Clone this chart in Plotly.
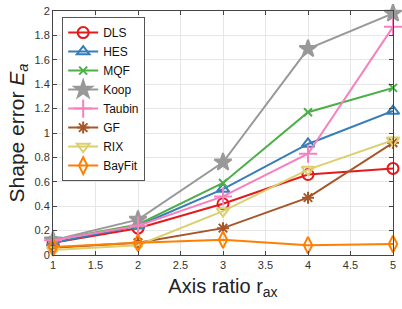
import plotly.graph_objects as go

x_ratio = [1, 2, 3, 4, 5]
names = ["DLS", "HES", "MQF", "Koop", "Taubin", "GF", "RIX", "BayFit"]
dls = [0.10, 0.22, 0.42, 0.66, 0.71]
hes = [0.10, 0.24, 0.54, 0.91, 1.18]
mqf = [0.12, 0.25, 0.59, 1.17, 1.37]
koop = [0.12, 0.29, 0.76, 1.69, 1.98]
taubin = [0.12, 0.24, 0.48, 0.83, 1.87]
gf = [0.06, 0.10, 0.22, 0.47, 0.92]
rix = [0.04, 0.08, 0.36, 0.70, 0.94]
bayfit = [0.065, 0.10, 0.125, 0.08, 0.09]
series = [dls, hes, mqf, koop, taubin, gf, rix, bayfit]
colors = ["#e41a1c", "#377eb8", "#4daf4a", "#999999", "#f781bf", "#a65628", "#dccf6e", "#ff7f00"]
symbols = ["circle-open", "triangle-up-open", "x-thin-open", "star", "cross-thin-open",
           "asterisk-open", "triangle-down-open", "diamond-tall-open"]
sizes = [11, 11, 8, 13, 13, 10, 11, 12]
x_ticks = [1, 1.5, 2, 2.5, 3, 3.5, 4, 4.5, 5]
y_ticks = [0, 0.2, 0.4, 0.6, 0.8, 1, 1.2, 1.4, 1.6, 1.8, 2]

fig = go.Figure()
for n, s, c, sym, sz in zip(names, series, colors, symbols, sizes):
    fig.add_trace(go.Scatter(
        x=x_ratio, y=s, name=n, mode="lines+markers", cliponaxis=False,
        line=dict(color=c, width=2),
        marker=dict(symbol=sym, size=sz, color=c, line=dict(color=c, width=2)),
    ))

axis_common = dict(
    showline=True, linecolor="#444444", linewidth=1, mirror="allticks",
    ticks="inside", ticklen=4, tickcolor="#444444",
    showgrid=True, gridcolor="#e6e6e6", gridwidth=1, zeroline=False,
    tickfont=dict(family="Liberation Sans, Arial", size=11, color="#333333"),
    ticklabeloverflow="allow",
)
fig.update_layout(
    width=402, height=309,
    margin=dict(l=53, r=9, t=5, b=54),
    paper_bgcolor="white", plot_bgcolor="white",
    font=dict(family="Liberation Sans, Arial", color="#222222"),
    xaxis=dict(range=[0.9999, 5.0001], tickvals=x_ticks, ticktext=[f"{v:g}" for v in x_ticks],
               title=dict(text="Axis ratio r<sub>ax</sub>", font=dict(size=20), standoff=8),
               **axis_common),
    yaxis=dict(range=[-0.0001, 2.0001], tickvals=y_ticks, ticktext=[f"{v:g}" for v in y_ticks],
               title=dict(text="Shape error <i>E<sub>a</sub></i>", font=dict(size=21), standoff=4),
               **axis_common),
    legend=dict(x=0.027, y=0.975, xanchor="left", yanchor="top",
                bgcolor="white", bordercolor="#555555", borderwidth=1,
                font=dict(size=12, color="#111111"), tracegroupgap=0,
                itemwidth=30),
    showlegend=True,
)
fig.write_html("out.html", config={"displayModeBar": False},
               post_script="document.body.style.margin='0';document.body.style.overflow='hidden';")
